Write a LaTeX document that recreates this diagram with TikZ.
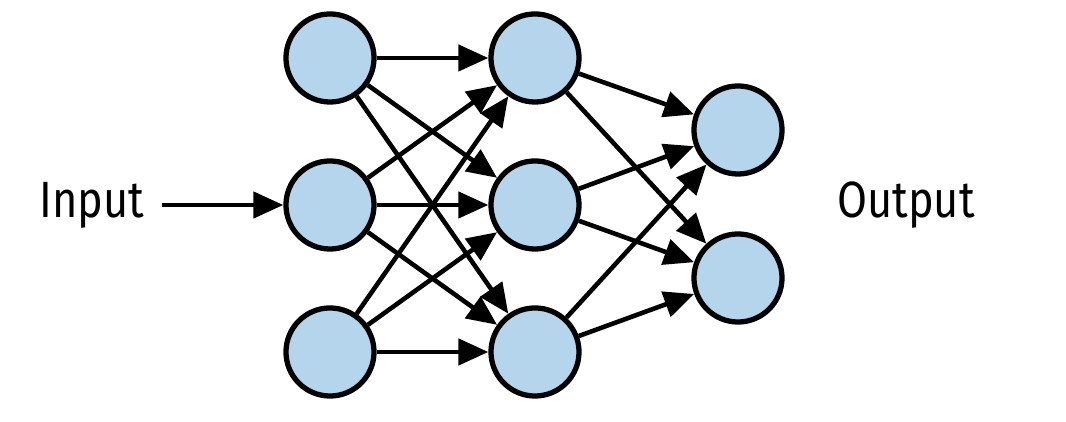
\documentclass[tikz,border=0pt]{standalone}
\usepackage{fontspec}
\setmainfont{Fira Sans}
\usetikzlibrary{arrows.meta}
\definecolor{nodeblue}{RGB}{180,213,235}
\begin{document}
\begin{tikzpicture}[x=0.01cm,y=-0.01cm,
  neuron/.style={circle,draw=black,line width=1.5pt,fill=nodeblue,minimum size=0.88cm,inner sep=0pt},
  conn/.style={line width=1.3pt,-{Triangle[length=0.3cm,width=0.26cm]}},
  lbl/.style={font=\fontsize{14.5pt}{16pt}\selectfont}]
\useasboundingbox (0,0) rectangle (1066,422);
\node[neuron] (a1) at (330,58) {};
\node[neuron] (a2) at (330,205) {};
\node[neuron] (a3) at (330,352) {};
\node[neuron] (b1) at (535,58) {};
\node[neuron] (b2) at (535,205) {};
\node[neuron] (b3) at (535,352) {};
\node[neuron] (c1) at (738,130) {};
\node[neuron] (c2) at (738,278) {};
\node[lbl,xscale=0.85] (in) at (92,205) {Input};
\node[lbl,xscale=0.85] (out) at (906,205) {Output};
\coordinate (s) at (162,205);
\draw[conn] (s) -- (a2);
\foreach \i in {1,2,3}{\foreach \j in {1,2,3}{\draw[conn] (a\i) -- (b\j);}}
\foreach \i in {1,2,3}{\foreach \j in {1,2}{\draw[conn] (b\i) -- (c\j);}}
\end{tikzpicture}
\end{document}
